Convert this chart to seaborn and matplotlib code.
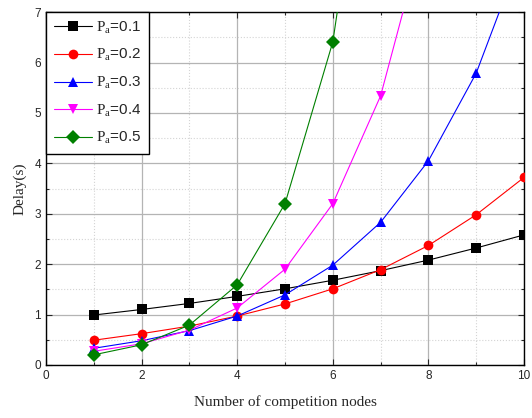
import pandas as pd
import seaborn as sns
import matplotlib.pyplot as plt
from matplotlib.ticker import MultipleLocator

nodes = [1, 2, 3, 4, 5, 6, 7, 8, 9, 10]
pa_01 = [0.99, 1.10, 1.22, 1.36, 1.51, 1.68, 1.87, 2.08, 2.32, 2.58]
pa_02 = [0.49, 0.62, 0.77, 0.97, 1.21, 1.51, 1.89, 2.37, 2.98, 3.72]
pa_03 = [0.33, 0.48, 0.68, 0.97, 1.39, 1.98, 2.83, 4.05, 5.79, 8.3]
pa_04 = [0.27, 0.42, 0.69, 1.13, 1.90, 3.20, 5.34, 8.9, None, None]
pa_05 = [0.20, 0.40, 0.79, 1.59, 3.20, 6.41, 12.8, None, None, None]
labels = [r'$\mathrm{P_a}$=0.1', r'$\mathrm{P_a}$=0.2', r'$\mathrm{P_a}$=0.3',
          r'$\mathrm{P_a}$=0.4', r'$\mathrm{P_a}$=0.5']
colors = ['black', 'red', 'blue', 'magenta', 'green']
markers = ['s', 'o', '^', 'v', 'D']

rows = []
for lab, vals in zip(labels, [pa_01, pa_02, pa_03, pa_04, pa_05]):
    for n, v in zip(nodes, vals):
        if v is not None:
            rows.append({'nodes': n, 'delay': v, 'series': lab})
df = pd.DataFrame(rows)

sns.set_style('ticks')
plt.rcParams['font.family'] = ['Liberation Sans', 'DejaVu Sans']
plt.rcParams['mathtext.fontset'] = 'custom'
plt.rcParams['mathtext.rm'] = 'Liberation Serif'

fig = plt.figure(figsize=(5.32, 4.18), dpi=100)
ax = fig.add_axes([0.0865, 0.127, 0.8985, 0.844])

sns.lineplot(data=df, x='nodes', y='delay', hue='series', style='series',
             palette=colors, markers=markers, dashes=False, linewidth=0.8,
             markersize=7, markeredgewidth=0, ax=ax, zorder=3)

ax.set_xlim(0, 10)
ax.set_ylim(0, 7)
ax.xaxis.set_major_locator(MultipleLocator(2))
ax.xaxis.set_minor_locator(MultipleLocator(1))
ax.yaxis.set_major_locator(MultipleLocator(1))
ax.yaxis.set_minor_locator(MultipleLocator(0.5))
ax.grid(which='major', color='#b4b4b4', linestyle='-', linewidth=0.9)
ax.grid(which='minor', color='#d4d4d4', linestyle=':', linewidth=0.8)
ax.tick_params(which='both', direction='in', top=True, right=True,
               labelsize=8.5, width=0.8)
ax.tick_params(which='major', length=4)
ax.tick_params(which='minor', length=2)
for s in ax.spines.values():
    s.set_linewidth(1.0)
    s.set_color('black')

ax.set_xlabel('Number of competition nodes', family='Liberation Serif', fontsize=11, labelpad=10)
ax.set_ylabel('Delay(s)', family='Liberation Serif', fontsize=11, labelpad=6)

leg = ax.legend(loc='upper left', fontsize=11, frameon=True, fancybox=False,
                framealpha=1, edgecolor='black', borderaxespad=0,
                handlelength=2.5, handletextpad=0.3, labelspacing=0.75,
                borderpad=0.5)
leg.get_frame().set_linewidth(1.0)
leg.set_zorder(5)

plt.savefig('out.png', dpi=100)
